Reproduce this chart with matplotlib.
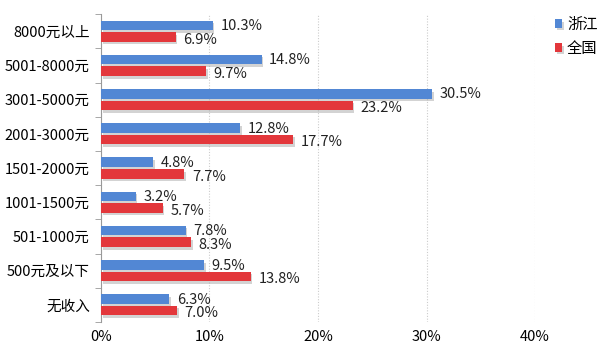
import matplotlib
matplotlib.use("Agg")
import matplotlib.pyplot as plt
import matplotlib.patheffects as pe
import numpy as np

plt.rcParams['font.family'] = ['Noto Sans CJK SC', 'DejaVu Sans']

categories = ["8000元以上", "5001-8000元", "3001-5000元", "2001-3000元", "1501-2000元",
              "1001-1500元", "501-1000元", "500元及以下", "无收入"]
zhejiang = [10.3, 14.8, 30.5, 12.8, 4.8, 3.2, 7.8, 9.5, 6.3]
national = [6.9, 9.7, 23.2, 17.7, 7.7, 5.7, 8.3, 13.8, 7.0]
series_names = ["浙江", "全国"]
xticks = [0, 10, 20, 30, 40]
xticklabels = ["0%", "10%", "20%", "30%", "40%"]

blue = "#5287D4"
red = "#E3373B"

fig = plt.figure(figsize=(6.08, 3.53), dpi=100)
ax = fig.add_axes([0.166, 0.088, 0.714, 0.872])

y = np.arange(len(categories))
h = 0.28
off = 0.17
shadow = [pe.SimplePatchShadow(offset=(1.2, -1.8), shadow_rgbFace="#a8a8a8", alpha=0.5), pe.Normal()]
b1 = ax.barh(y - off, zhejiang, height=h, color=blue, label=series_names[0], zorder=3)
b2 = ax.barh(y + off, national, height=h, color=red, label=series_names[1], zorder=3)
for b in list(b1) + list(b2):
    b.set_path_effects(shadow)

fs = 10.5
for yi, v in zip(y - off, zhejiang):
    ax.text(v + 0.7, yi + 0.02, f"{v:.1f}%", va="center", ha="left", fontsize=fs, color="#222222")
for yi, v in zip(y + off, national):
    ax.text(v + 0.7, yi + 0.08, f"{v:.1f}%", va="center", ha="left", fontsize=fs, color="#222222")

ax.set_xlim(0, 40)
ax.set_ylim(len(categories) - 0.5, -0.5)
ax.set_xticks(xticks)
ax.set_xticklabels(xticklabels, fontsize=fs)
ax.set_yticks(y)
ax.set_yticklabels(categories, fontsize=fs)
ax.tick_params(axis="y", length=0, pad=8)
ax.tick_params(axis="x", length=0, pad=6)
ax.set_yticks(np.arange(-0.5, len(categories)), minor=True)
ax.tick_params(axis="y", which="minor", length=4, color="#999999", direction="out")

ax.xaxis.grid(True, linestyle=(0, (1, 1.5)), color="#cccccc", linewidth=0.8, zorder=0)
ax.set_axisbelow(True)
for s in ["top", "right", "bottom"]:
    ax.spines[s].set_visible(False)
ax.spines["left"].set_color("#999999")

leg = fig.legend(handles=[b1, b2], labels=series_names, loc="upper left",
                 bbox_to_anchor=(0.895, 0.985), frameon=False, fontsize=11,
                 handlelength=0.5, handleheight=0.5, handletextpad=0.3,
                 labelspacing=0.45, borderpad=0.2)

fig.savefig("out.png", dpi=100)
